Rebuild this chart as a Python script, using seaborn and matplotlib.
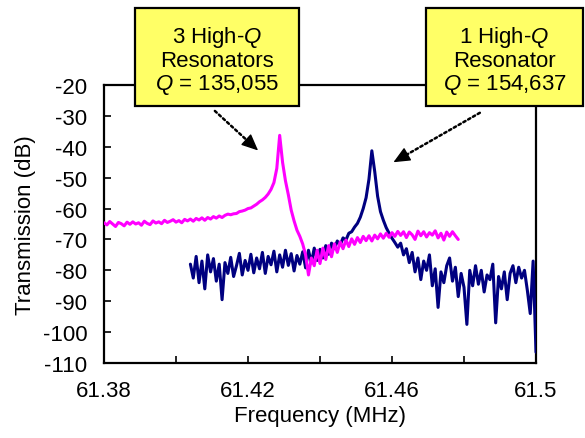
import numpy as np
import pandas as pd
import matplotlib
matplotlib.use("Agg")
import matplotlib.pyplot as plt
from matplotlib.patches import Rectangle
import seaborn as sns

# ---- sweep data -----------------------------------------------------------
# Three coupled high-Q resonators (sweep 61.3800 .. 61.4784 MHz, 0.8 kHz step)
f3_start, f3_step = 61.3800, 0.0008
tx3_db = [
    -64.6, -65.3, -64.2, -65.0, -65.8, -64.5, -64.9, -65.6, -64.4, -65.1,
    -64.3, -65.0, -64.6, -65.4, -64.1, -64.8, -65.2, -64.0, -64.7, -64.3,
    -64.9, -63.8, -64.5, -64.1, -63.6, -64.4, -63.9, -64.6, -63.5, -64.0,
    -63.4, -64.1, -63.2, -63.7, -63.0, -63.8, -62.9, -63.4, -62.6, -63.1,
    -62.4, -62.9, -62.2, -61.8, -62.0, -61.7, -61.6, -61.0, -60.8, -60.5,
    -60.0, -59.8, -59.2, -58.6, -57.8, -57.2, -56.4, -55.3, -53.8, -51.6,
    -47.0, -36.3, -45.0, -51.0, -55.5, -60.5, -64.0, -67.0, -69.0, -71.5,
    -75.0, -81.5, -76.0, -78.5, -73.5, -77.8, -72.8, -76.5, -72.0, -75.6,
    -71.4, -74.2, -70.8, -73.0, -70.2, -72.3, -69.8, -71.6, -69.4, -71.0,
    -69.0, -70.4, -68.8, -70.5, -68.6, -69.8, -68.2, -69.6, -68.0, -69.3,
    -67.8, -69.0, -67.4, -68.7, -67.5, -69.4, -67.6, -68.5, -70.0, -67.3,
    -68.8, -67.5, -69.2, -67.8, -68.6, -67.2, -69.5, -68.0, -70.2, -67.6,
    -69.0, -67.5, -68.8, -70.0,
]

# Single high-Q resonator (sweep 61.4040 .. 61.5000 MHz, 0.8 kHz step)
f1_start, f1_step = 61.4040, 0.0008
tx1_db = [
    -78.0, -82.5, -75.5, -84.0, -77.0, -86.0, -75.0, -80.5, -76.2, -83.5,
    -78.0, -89.5, -77.5, -81.0, -75.8, -82.0, -78.5, -74.5, -81.5, -76.8,
    -80.0, -74.8, -80.8, -76.0, -79.5, -74.2, -81.0, -75.5, -78.2, -73.8,
    -80.5, -75.0, -79.0, -73.5, -78.4, -74.6, -80.2, -75.2, -78.0, -74.0,
    -79.2, -73.5, -77.6, -72.8, -76.8, -73.2, -76.0, -72.0, -74.8, -71.2,
    -73.0, -70.5, -71.8, -69.5, -70.2, -68.0, -67.5, -66.0, -64.8, -62.8,
    -60.0, -56.5, -50.5, -41.3, -48.0, -56.0, -61.0, -63.8, -66.2, -68.0,
    -69.6, -71.0, -72.5, -71.2, -75.0, -73.0, -77.5, -74.2, -80.5, -76.0,
    -83.0, -77.0, -80.0, -75.0, -85.0, -79.5, -92.0, -80.5, -84.0, -78.5,
    -76.0, -83.5, -79.0, -88.5, -81.0, -85.5, -97.5, -80.0, -85.0, -78.5,
    -84.5, -80.0, -87.0, -81.5, -83.0, -78.0, -97.0, -82.0, -86.0, -80.5,
    -89.5, -81.0, -78.5, -84.0, -79.0, -82.5, -80.0, -86.5, -94.0, -77.0,
    -106.5,
]

x_ticks = [61.38, 61.40, 61.42, 61.44, 61.46, 61.48, 61.50]
x_tick_labels = ["61.38", "", "61.42", "", "61.46", "", "61.5"]
y_ticks = [-110, -100, -90, -80, -70, -60, -50, -40, -30, -20]

box_left_lines = ["3 High-$Q$", "Resonators", "$Q$ = 135,055"]
box_right_lines = ["1 High-$Q$", "Resonator", "$Q$ = 154,637"]

# ---- frames ---------------------------------------------------------------
df3 = pd.DataFrame({
    "freq": f3_start + f3_step * np.arange(len(tx3_db)),
    "tx": tx3_db,
})
df1 = pd.DataFrame({
    "freq": f1_start + f1_step * np.arange(len(tx1_db)),
    "tx": tx1_db,
})

# ---- style ----------------------------------------------------------------
sns.set_theme(style="ticks")
plt.rcParams["font.family"] = ["Liberation Sans", "DejaVu Sans"]
plt.rcParams["axes.unicode_minus"] = False
plt.rcParams["mathtext.fontset"] = "custom"
plt.rcParams["mathtext.rm"] = "Liberation Sans"
plt.rcParams["mathtext.it"] = "Liberation Sans:italic"

fig = plt.figure(figsize=(5.85, 4.39), dpi=100)
ax = fig.add_axes([104 / 585, 1 - 364 / 439, 432 / 585, 278 / 439])

sns.lineplot(data=df1, x="freq", y="tx", ax=ax, color="#000080",
             lw=2.2, estimator=None, sort=False, zorder=3)
sns.lineplot(data=df3, x="freq", y="tx", ax=ax, color="#FF00FF",
             lw=2.2, estimator=None, sort=False, zorder=4)

ax.set_xlim(61.38, 61.50)
ax.set_ylim(-110, -20)
ax.set_xticks(x_ticks)
ax.set_xticklabels(x_tick_labels)
ax.set_yticks(y_ticks)
ax.tick_params(direction="in", length=5, width=1.2, labelsize=16,
               colors="black", pad=12)
for s in ax.spines.values():
    s.set_linewidth(1.6)
    s.set_color("black")

ax.set_xlabel("Frequency (MHz)", fontsize=16, color="black")
ax.set_ylabel("Transmission (dB)", fontsize=16, color="black")
ax.xaxis.set_label_coords(0.5, -0.15)
ax.yaxis.set_label_coords(-0.157, 0.5)


# ---- pointers to the resonance peaks --------------------------------------
def pointer(tail, tip):
    """Dotted shaft with a solid filled head, both in data coordinates."""
    to_px = ax.transData.transform
    to_data = ax.transData.inverted().transform
    t0, t1 = np.asarray(to_px(tail)), np.asarray(to_px(tip))
    direction = (t1 - t0) / np.hypot(*(t1 - t0))
    head_base = to_data(t1 - 12 * direction)
    ax.annotate("", xy=tip, xytext=tail, annotation_clip=False,
                arrowprops=dict(arrowstyle="-", color="black", lw=1.8,
                                linestyle=(0, (1, 1.2)),
                                shrinkA=0, shrinkB=6))
    ax.annotate("", xy=tip, xytext=tuple(head_base), annotation_clip=False,
                arrowprops=dict(arrowstyle="-|>,head_length=0.85,"
                                "head_width=0.38",
                                color="black", lw=1.0,
                                shrinkA=0, shrinkB=0))


pointer((61.4108, -28.4), (61.4228, -41.2))
pointer((61.4844, -29.0), (61.4604, -45.0))


# ---- callout boxes --------------------------------------------------------
def callout(x0, x1, lines):
    y0, y1 = 9, 107
    rect = Rectangle((x0 / 585, 1 - y1 / 439), (x1 - x0) / 585,
                     (y1 - y0) / 439, transform=fig.transFigure,
                     facecolor="#FFFF66", edgecolor="black", lw=1.6,
                     zorder=5)
    fig.add_artist(rect)
    fig.text((x0 + x1) / 2 / 585, 1 - ((y0 + y1) / 2 + 3) / 439,
             "\n".join(lines), ha="center", va="center", fontsize=16,
             linespacing=1.05, color="black", zorder=6)


callout(135, 299, box_left_lines)
callout(426, 583, box_right_lines)

fig.savefig("out.png", dpi=100)
